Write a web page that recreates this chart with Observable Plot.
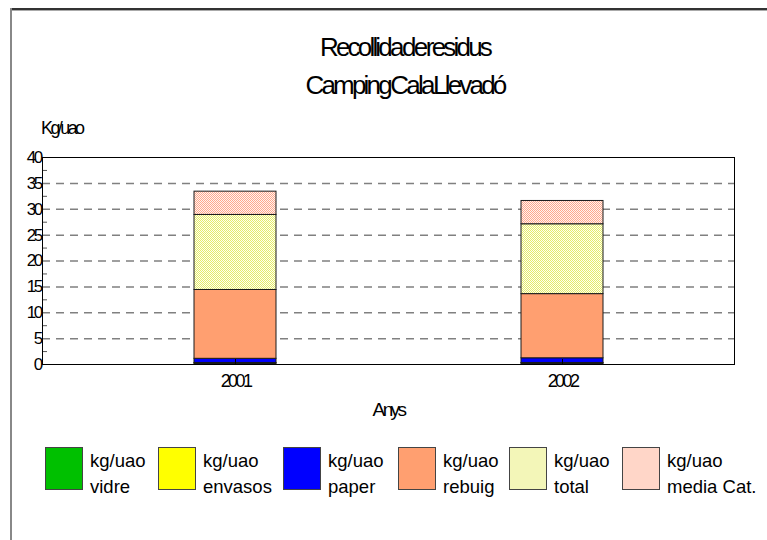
<!DOCTYPE html>
<html>
<head>
<meta charset="utf-8">
<script src="https://cdn.jsdelivr.net/npm/d3@7"></script>
<script src="https://cdn.jsdelivr.net/npm/@observablehq/plot@0.6"></script>
<style>
  html, body { margin: 0; padding: 0; background: #fff; }
  #page { position: relative; width: 767px; height: 540px; overflow: hidden; font-family: "Liberation Sans", Arial, sans-serif; color: #000; }
  .border-top { position: absolute; left: 10px; top: 8px; width: 757px; height: 0; border-top: 2px solid #333; }
  .border-top2 { position: absolute; left: 10px; top: 10px; width: 757px; height: 0; border-top: 1px solid #aaa; }
  .border-left { position: absolute; left: 10px; top: 8px; width: 0; height: 532px; border-left: 2px solid #888; }
  .title { position: absolute; left: 0; width: 810px; text-align: center; font-size: 26px; line-height: 26px; letter-spacing: -2.8px; word-spacing: -4px; white-space: nowrap; }
  .unit { position: absolute; left: 41px; top: 119px; font-size: 18px; line-height: 18px; letter-spacing: -2.6px; }
  #chart { position: absolute; left: 0; top: 140px; }
  .leg { position: absolute; top: 447px; }
  .leg svg { position: absolute; left: 0; top: 0; }
  .leg .lab { position: absolute; top: 1px; font-size: 18.5px; line-height: 26px; white-space: nowrap; }
</style>
</head>
<body>
<div id="page">
  <div class="border-top"></div>
  <div class="border-top2"></div>
  <div class="border-left"></div>
  <div class="title" style="top:34px">Recollida de residus</div>
  <div class="title" style="top:72px">Camping Cala Llevadó</div>
  <div class="unit">Kg/uao</div>
  <div id="chart"></div>
  <div id="legend"></div>
</div>
<script>
// ---- data ----
const years = ["2001", "2002"];
const seriesNames = ["kg/uao vidre", "kg/uao envasos", "kg/uao paper", "kg/uao rebuig", "kg/uao total", "kg/uao media Cat."];
const legendLine1 = ["kg/uao", "kg/uao", "kg/uao", "kg/uao", "kg/uao", "kg/uao"];
const legendLine2 = ["vidre", "envasos", "paper", "rebuig", "total", "media Cat."];
const vidre = [0.2, 0.2];
const envasos = [0.1, 0.1];
const paper = [0.8, 0.9];
const rebuig = [13.3, 12.4];
const total = [14.5, 13.5];
const mediaCat = [4.5, 4.5];
const yTicks = [0, 5, 10, 15, 20, 25, 30, 35, 40];
const gridTicks = [5, 10, 15, 20, 25, 30, 35];
const minorTicks = [2.5, 7.5, 12.5, 17.5, 22.5, 27.5, 32.5, 37.5];
const xAxisLabel = "Anys";

// ---- styles ----
const fills = ["#00c000", "#ffff00", "#0000ff", "#ff9f70", "url(#pTotal)", "url(#pMedia)"];
const legendFills = ["#00c000", "#ffff00", "#0000ff", "#ff9f70", "#f3f6b8", "#ffd6c8"];
const legendX = [45, 158, 283, 398, 509, 622];

const seriesValues = [vidre, envasos, paper, rebuig, total, mediaCat];
const table = [];
seriesNames.forEach((s, si) => {
  years.forEach((yr, yi) => table.push({year: yr, serie: s, value: seriesValues[si][yi]}));
});

const chart = Plot.plot({
  width: 767,
  height: 290,
  marginTop: 17,
  marginBottom: 66,
  marginLeft: 42,
  marginRight: 33,
  x: {domain: years, range: [194, 603], paddingInner: 0.75, paddingOuter: 0, label: null},
  y: {domain: [0, 40], label: null},
  color: {domain: seriesNames, range: fills},
  style: {fontFamily: "'Liberation Sans', Arial, sans-serif", fontSize: "18px", color: "#000", background: "transparent", letterSpacing: "-2.6px", overflow: "visible"},
  marks: [
    Plot.gridY(gridTicks, {stroke: "#808080", strokeOpacity: 1, strokeWidth: 1.5, strokeDasharray: "8,6"}),
    Plot.barY(table, {x: "year", y: "value", fill: "serie", stroke: "#1a1a1a", strokeWidth: 1, order: seriesNames}),
    Plot.axisX({tickSize: 5, dy: -5, tickFormat: () => "", stroke: "#000"}),
    Plot.axisX({tickSize: 0, tickPadding: 10, fontSize: 18}),
    Plot.axisY({ticks: yTicks, tickSize: 0, tickPadding: 2, fontSize: 17}),
    Plot.axisY({ticks: minorTicks, tickSize: 5, dx: 5, tickFormat: () => "", stroke: "#555"}),
    Plot.frame({stroke: "#000", strokeWidth: 1}),
    Plot.text([xAxisLabel], {text: d => d, frameAnchor: "bottom", dy: 51, fontSize: 19})
  ]
});

// patterns for dithered fills
const ns = "http://www.w3.org/2000/svg";
const defs = document.createElementNS(ns, "defs");
function addPattern(id, color, bgColor) {
  const p = document.createElementNS(ns, "pattern");
  p.setAttribute("id", id);
  p.setAttribute("width", 2); p.setAttribute("height", 2);
  p.setAttribute("patternUnits", "userSpaceOnUse");
  const bg = document.createElementNS(ns, "rect");
  bg.setAttribute("width", 2); bg.setAttribute("height", 2); bg.setAttribute("fill", bgColor);
  p.appendChild(bg);
  [[0, 0], [1, 1]].forEach(([x, y]) => {
    const r = document.createElementNS(ns, "rect");
    r.setAttribute("x", x); r.setAttribute("y", y);
    r.setAttribute("width", 1); r.setAttribute("height", 1); r.setAttribute("fill", color);
    p.appendChild(r);
  });
  defs.appendChild(p);
}
addPattern("pTotal", "#e4ec6a", "#fffff0");
addPattern("pMedia", "#ffa88c", "#fff4f0");
chart.insertBefore(defs, chart.firstChild);
document.getElementById("chart").appendChild(chart);

// legend
const legend = document.getElementById("legend");
seriesNames.forEach((s, i) => {
  const item = document.createElement("div");
  item.className = "leg";
  item.style.left = legendX[i] + "px";
  item.innerHTML = `<svg width="38" height="43"><rect x="0.5" y="0.5" width="37" height="42" fill="${legendFills[i]}" stroke="#444" stroke-width="1"></rect></svg><div class="lab" style="left:45px">${legendLine1[i]}<br>${legendLine2[i]}</div>`;
  legend.appendChild(item);
});
</script>
</body>
</html>
